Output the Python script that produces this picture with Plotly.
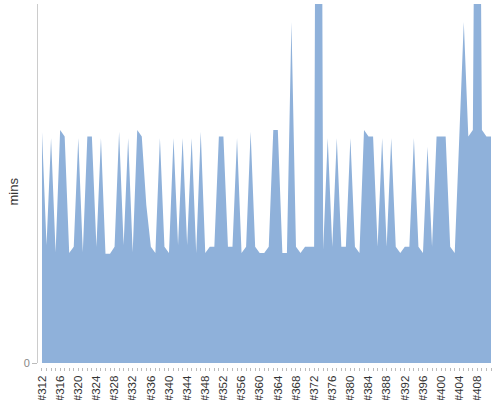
import plotly.graph_objects as go

categories = ["#%d" % n for n in range(312, 412)]

mins = [
    6.31, 3.22, 6.14, 3.02, 6.36, 6.18, 3.00, 3.17, 6.14, 3.02,
    6.18, 6.18, 3.17, 6.14, 2.98, 2.98, 3.17, 6.31, 3.22, 6.14,
    3.02, 6.36, 6.18, 4.31, 3.17, 3.00, 6.14, 3.17, 3.00, 6.14,
    3.22, 6.14, 3.22, 6.14, 3.00, 6.31, 3.00, 3.17, 3.17, 6.18,
    6.18, 3.17, 3.17, 6.14, 3.00, 3.17, 6.31, 3.17, 3.00, 3.00,
    3.17, 6.36, 6.36, 3.00, 3.00, 9.31, 3.17, 3.00, 3.17, 3.17,
    3.17, 39.0, 3.10, 6.14, 3.17, 6.14, 3.17, 3.17, 6.14, 3.17,
    3.00, 6.36, 6.18, 6.18, 3.17, 6.14, 3.17, 6.14, 3.17, 3.00,
    3.17, 3.17, 6.14, 3.17, 3.00, 5.90, 3.17, 6.18, 6.18, 6.18,
    3.17, 3.00, 6.14, 9.31, 6.18, 6.36, 25.0, 6.36, 6.18, 6.18,
]

tick_labels = [c if i % 4 == 0 else "" for i, c in enumerate(categories)]

y_max = 9.8
plot_h = 363

fig = go.Figure()
fig.add_trace(go.Scatter(
    x=categories,
    y=mins,
    mode="lines",
    line=dict(width=0, color="#8FB1DA"),
    fill="tozeroy",
    fillcolor="#8FB1DA",
    hoverinfo="skip",
))

fig.update_layout(
    width=500,
    height=400,
    margin=dict(l=38, r=9, t=4, b=33),
    paper_bgcolor="white",
    plot_bgcolor="white",
    showlegend=False,
    font=dict(family="Liberation Sans, Arial, sans-serif", size=11, color="#333"),
    xaxis=dict(
        type="category",
        range=[-0.88, 99],
        anchor="free",
        position=0,
        tickvals=categories,
        ticktext=tick_labels,
        tickangle=-90,
        ticks="outside",
        ticklen=3,
        tickwidth=1,
        tickcolor="#bbb",
        showgrid=False,
        showline=False,
        zeroline=False,
        automargin=False,
        tickfont=dict(size=11.5, color="#333"),
    ),
    yaxis=dict(
        domain=[4 / plot_h, 1],
        range=[0, y_max],
        tickvals=[0],
        ticktext=["0"],
        ticks="outside",
        ticklen=5,
        tickcolor="#bbb",
        showline=True,
        linecolor="#ccc",
        linewidth=1,
        showgrid=False,
        zeroline=False,
        tickfont=dict(size=11, color="#888"),
        automargin=False,
    ),
    annotations=[dict(
        text="mins",
        xref="paper", yref="paper",
        x=-25 / 453, y=0.5 - 6 / plot_h,
        xanchor="center", yanchor="middle",
        textangle=-90,
        showarrow=False,
        font=dict(size=13, color="#333"),
    )],
)

fig.write_html(
    "out.html",
    config={"displayModeBar": False},
    post_script="document.body.style.margin='0';document.body.style.padding='0';",
)
